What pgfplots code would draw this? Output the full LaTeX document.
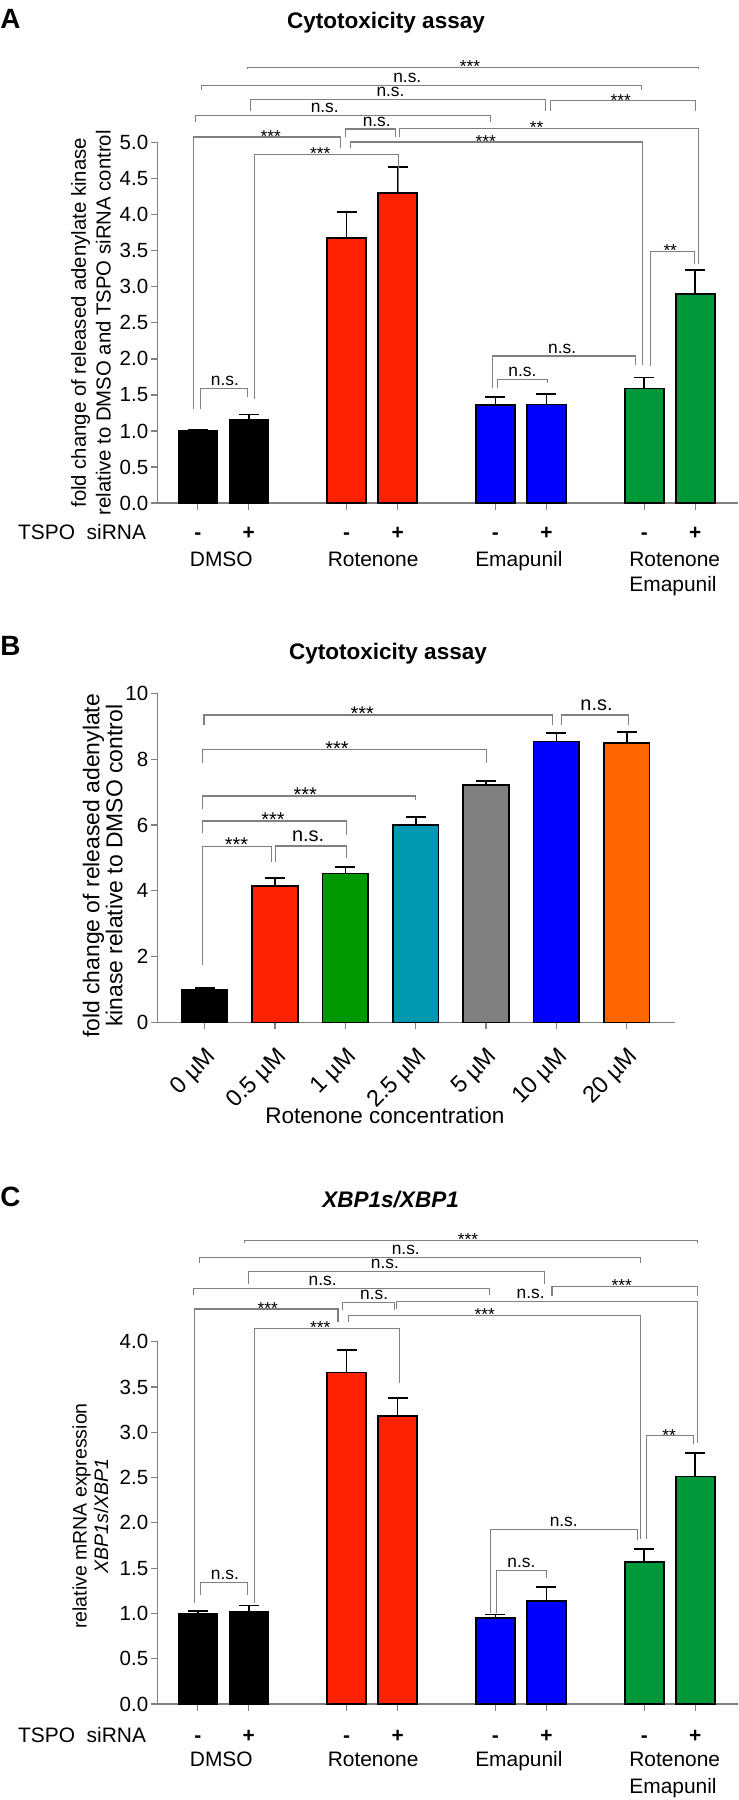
\documentclass[border=0pt]{standalone}
\usepackage{fontspec}
\setmainfont{Liberation Sans}
\usepackage{pgfplots}
\pgfplotsset{compat=1.18}

\definecolor{rotred}{HTML}{FF2200}
\definecolor{emablue}{HTML}{0000FF}
\definecolor{comgreen}{HTML}{00993A}
\definecolor{bgreen}{HTML}{009A00}
\definecolor{bteal}{HTML}{0099B3}
\definecolor{bgrey}{HTML}{808080}
\definecolor{borange}{HTML}{FF6600}
\definecolor{axgray}{HTML}{808080}

\tikzset{
  brk/.style={draw=axgray, line width=0.55bp},
  star/.style={anchor=base, font=\fontsize{8.7}{10}\selectfont, inner sep=0pt, yshift=-2.6bp},
  ns/.style={anchor=base, font=\fontsize{8.7}{10}\selectfont, inner sep=0pt, yshift=1.5bp},
  starB/.style={anchor=base, font=\fontsize{10}{12}\selectfont, inner sep=0pt, yshift=-2.6bp},
  nsB/.style={anchor=base, font=\fontsize{10}{12}\selectfont, inner sep=0pt, yshift=2.1bp},
  lab/.style={anchor=base, font=\fontsize{10.5}{13.35}\selectfont, inner sep=0pt},
  pm/.style={anchor=base, font=\bfseries\fontsize{10.5}{12}\selectfont, inner sep=0pt},
}
% significance bracket: x1, bottom1, x2, bottom2, top, label x, text, style
\newcommand{\brk}[8]{%
  \draw[brk] (axis cs:#1,#2) -- (axis cs:#1,#5) -- (axis cs:#3,#5) -- (axis cs:#3,#4);
  \node[#8] at (axis cs:#6,#5) {#7};}
% siRNA row: x, sign, shift
\newcommand{\sirna}[3]{\node[pm] at ([yshift=#3]axis cs:#1,0) {#2};}
% rotated concentration label
\newcommand{\conc}[2]{\node[rotate=45, anchor=east, inner sep=0, font=\fontsize{11.8}{14}\selectfont]
     at ([xshift=4bp, yshift=-15.5bp]axis cs:#1,0) {#2\ µM};}

\pgfplotsset{
  gp/.style={
    scale only axis, anchor=south west, clip=false,
    axis lines*=left, axis line style={-, axgray, line width=0.6bp},
    tick style={axgray, line width=0.6bp}, tick align=outside, major tick length=3.3bp,
    xticklabels={}, 
    yticklabel style={font=\fontsize{10.3}{12}\selectfont, inner sep=1.2bp},
    /pgf/number format/assume math mode=true,
    error bars/y dir=plus, error bars/y explicit,
    error bars/error bar style={black, line width=0.8bp},
    error bars/error mark options={black, line width=0.8bp, mark size=5bp, rotate=90},
  },
  bars/.style={ybar, bar shift=0pt, fill=#1, draw=black, line width=0.8bp},
}

\begin{document}
\begin{tikzpicture}
\begin{scope}[x=0.5bp, y=-0.5bp]
  \path[use as bounding box] (0,0) rectangle (738,1800);
  \node[anchor=base west, inner sep=0, font=\bfseries\fontsize{14}{16}\selectfont] at (0,28.3) {A};
  \node[anchor=base, inner sep=0, font=\bfseries\fontsize{11.3}{13}\selectfont] at (386,28.5) {Cytotoxicity assay};
  \node[anchor=base west, inner sep=0, font=\bfseries\fontsize{14}{16}\selectfont] at (0,655) {B};
  \node[anchor=base, inner sep=0, font=\bfseries\fontsize{11.3}{13}\selectfont] at (388,659) {Cytotoxicity assay};
  \node[anchor=base west, inner sep=0, font=\bfseries\fontsize{14}{16}\selectfont] at (0,1206.7) {C};
  \node[anchor=base, inner sep=0, font=\bfseries\itshape\fontsize{11.3}{13}\selectfont] at (390.6,1207.3) {XBP1s/XBP1};
\end{scope}

% ---------------- A ----------------
\begin{axis}[gp, at={(78.8bp,-251.5bp)}, width=290.2bp, height=180.15bp,
  xmin=-0.79, xmax=10.6, ymin=0, ymax=5, bar width=19.5bp,
  xtick={0,1,2.92,3.92,5.84,6.84,8.76,9.76},
  ytick={0,0.5,1,1.5,2,2.5,3,3.5,4,4.5,5},
  yticklabel style={/pgf/number format/.cd, fixed, fixed zerofill, precision=1}]
\addplot[bars=black] coordinates {(0,1.00) +- (0,0.02) (1,1.15) +- (0,0.08)};
\addplot[bars=rotred] coordinates {(2.92,3.68) +- (0,0.36) (3.92,4.30) +- (0,0.36)};
\addplot[bars=emablue] coordinates {(5.84,1.36) +- (0,0.11) (6.84,1.37) +- (0,0.14)};
\addplot[bars=comgreen] coordinates {(8.76,1.59) +- (0,0.15) (9.76,2.90) +- (0,0.33)};

\brk{0.98}{6.02}{9.82}{6.02}{6.05}{5.34}{***}{star}
\brk{0.07}{5.73}{8.70}{5.73}{5.80}{4.11}{n.s.}{ns}
\brk{1.04}{5.44}{6.83}{5.44}{5.60}{3.78}{n.s.}{ns}
\brk{6.92}{5.44}{9.77}{5.44}{5.58}{8.30}{***}{star}
\brk{-0.05}{5.29}{5.75}{5.29}{5.38}{2.49}{n.s.}{ns}
\brk{2.89}{5.08}{3.88}{5.08}{5.19}{3.51}{n.s.}{ns}
\brk{3.95}{5.08}{9.83}{3.32}{5.20}{6.65}{**}{star}
\brk{-0.09}{1.31}{2.80}{4.92}{5.08}{1.43}{***}{star}
\brk{3.00}{4.92}{8.72}{1.91}{5.01}{5.65}{***}{star}
\brk{1.11}{1.45}{3.94}{4.31}{4.84}{2.40}{***}{star}
\brk{8.88}{1.90}{9.75}{3.32}{3.49}{9.27}{**}{star}
\brk{5.78}{1.59}{8.58}{1.91}{2.04}{7.15}{n.s.}{ns}
\brk{5.88}{1.60}{6.86}{1.66}{1.71}{6.37}{n.s.}{ns}
\brk{0.05}{1.30}{0.97}{1.47}{1.59}{0.53}{n.s.}{ns}

\node[lab, anchor=base east] at ([yshift=-18.1bp]axis cs:-1.01,0) {TSPO\ \ siRNA};
\sirna{0}{-}{-18.1bp}\sirna{1}{+}{-18.1bp}
\sirna{2.92}{-}{-18.1bp}\sirna{3.92}{+}{-18.1bp}
\sirna{5.84}{-}{-18.1bp}\sirna{6.84}{+}{-18.1bp}
\sirna{8.76}{-}{-18.1bp}\sirna{9.76}{+}{-18.1bp}
\node[lab] at ([yshift=-31.9bp]axis cs:0.46,0) {DMSO};
\node[lab] at ([yshift=-31.9bp]axis cs:3.44,0) {Rotenone};
\node[lab] at ([yshift=-31.9bp]axis cs:6.30,0) {Emapunil};
\node[lab, anchor=base west] at ([yshift=-31.9bp]axis cs:8.46,0) {Rotenone};
\node[lab, anchor=base west] at ([yshift=-44.2bp]axis cs:8.46,0) {Emapunil};
\node[rotate=90, align=center, inner sep=0, font=\fontsize{10.2}{12.5}\selectfont]
  at ([xshift=-33.3bp]rel axis cs:0,0.5) {fold change of released adenylate kinase\\relative to DMSO and TSPO siRNA control};
\end{axis}

% ---------------- B ----------------
\begin{axis}[gp, at={(78.8bp,-511.15bp)}, width=258.85bp, height=164.5bp,
  xmin=-0.67, xmax=6.69, ymin=0, ymax=10, bar width=22.8bp,
  xtick={0,1,2,3,4,5,6}, ytick={0,2,4,6,8,10}]
\addplot[bars=black] coordinates {(0,1.00) +- (0,0.05)};
\addplot[bars=rotred] coordinates {(1,4.15) +- (0,0.23)};
\addplot[bars=bgreen] coordinates {(2,4.52) +- (0,0.21)};
\addplot[bars=bteal] coordinates {(3,6.00) +- (0,0.25)};
\addplot[bars=bgrey] coordinates {(4,7.21) +- (0,0.12)};
\addplot[bars=emablue] coordinates {(5,8.53) +- (0,0.27)};
\addplot[bars=borange] coordinates {(6,8.49) +- (0,0.34)};

\brk{-0.01}{9.04}{4.95}{9.04}{9.34}{2.24}{***}{starB}
\brk{5.07}{9.04}{6.02}{9.04}{9.34}{5.57}{n.s.}{nsB}
\brk{-0.03}{7.88}{4.00}{7.88}{8.28}{1.88}{***}{starB}
\brk{-0.03}{6.47}{2.99}{6.76}{6.88}{1.43}{***}{starB}
\brk{-0.03}{5.74}{2.01}{5.69}{6.12}{0.97}{***}{starB}
\brk{-0.03}{1.74}{0.95}{4.88}{5.34}{0.45}{***}{starB}
\brk{1.00}{4.88}{2.01}{4.98}{5.36}{1.47}{n.s.}{nsB}

\conc{0}{0}\conc{1}{0.5}\conc{2}{1}\conc{3}{2.5}\conc{4}{5}\conc{5}{10}\conc{6}{20}
\node[anchor=base, inner sep=0, font=\fontsize{11.3}{13}\selectfont] at ([yshift=-50.5bp]axis cs:2.56,0) {Rotenone concentration};
\node[rotate=90, align=center, inner sep=0, font=\fontsize{11.5}{11.5}\selectfont]
  at ([xshift=-27.5bp, yshift=-4bp]rel axis cs:0,0.5) {fold change of released adenylate\\kinase relative to DMSO control};
\end{axis}

% ---------------- C ----------------
\begin{axis}[gp, at={(78.8bp,-852bp)}, width=290.2bp, height=181.2bp,
  xmin=-0.79, xmax=10.6, ymin=0, ymax=4, bar width=19.5bp,
  xtick={0,1,2.92,3.92,5.84,6.84,8.76,9.76},
  ytick={0,0.5,1,1.5,2,2.5,3,3.5,4},
  yticklabel style={/pgf/number format/.cd, fixed, fixed zerofill, precision=1}]
\addplot[bars=black] coordinates {(0,1.00) +- (0,0.03) (1,1.02) +- (0,0.07)};
\addplot[bars=rotred] coordinates {(2.92,3.66) +- (0,0.25) (3.92,3.18) +- (0,0.20)};
\addplot[bars=emablue] coordinates {(5.84,0.95) +- (0,0.04) (6.84,1.14) +- (0,0.15)};
\addplot[bars=comgreen] coordinates {(8.76,1.57) +- (0,0.14) (9.76,2.51) +- (0,0.26)};

\brk{0.91}{5.09}{9.81}{5.09}{5.12}{5.30}{***}{star}
\brk{0.03}{4.87}{8.69}{4.87}{4.93}{4.08}{n.s.}{ns}
\brk{0.99}{4.64}{6.81}{4.64}{4.77}{3.67}{n.s.}{ns}
\brk{6.95}{4.50}{9.80}{4.50}{4.61}{8.32}{***}{star}
\brk{-0.09}{4.51}{5.72}{4.51}{4.59}{2.45}{n.s.}{ns}
\brk{3.90}{4.36}{9.81}{2.88}{4.44}{6.53}{n.s.}{ns}
\brk{2.84}{4.35}{3.86}{4.35}{4.43}{3.46}{n.s.}{ns}
\brk{-0.06}{1.12}{2.75}{4.22}{4.36}{1.37}{***}{star}
\brk{2.95}{4.22}{8.69}{1.82}{4.29}{5.63}{***}{star}
\brk{1.11}{1.12}{3.95}{3.54}{4.15}{2.40}{***}{star}
\brk{8.81}{1.82}{9.73}{2.87}{2.96}{9.25}{**}{star}
\brk{5.75}{1.00}{8.63}{1.81}{1.93}{7.18}{n.s.}{ns}
\brk{5.86}{1.01}{6.85}{1.39}{1.47}{6.35}{n.s.}{ns}
\brk{0.05}{1.20}{0.97}{1.20}{1.34}{0.53}{n.s.}{ns}

\node[lab, anchor=base east] at ([yshift=-19bp]axis cs:-1.01,0) {TSPO\ \ siRNA};
\sirna{0}{-}{-19bp}\sirna{1}{+}{-19bp}
\sirna{2.92}{-}{-19bp}\sirna{3.92}{+}{-19bp}
\sirna{5.84}{-}{-19bp}\sirna{6.84}{+}{-19bp}
\sirna{8.76}{-}{-19bp}\sirna{9.76}{+}{-19bp}
\node[lab] at ([yshift=-31.4bp]axis cs:0.46,0) {DMSO};
\node[lab] at ([yshift=-31.4bp]axis cs:3.44,0) {Rotenone};
\node[lab] at ([yshift=-31.4bp]axis cs:6.30,0) {Emapunil};
\node[lab, anchor=base west] at ([yshift=-31.4bp]axis cs:8.46,0) {Rotenone};
\node[lab, anchor=base west] at ([yshift=-44.7bp]axis cs:8.46,0) {Emapunil};
\node[rotate=90, align=center, inner sep=0, font=\fontsize{9.8}{10.8}\selectfont]
  at ([xshift=-33.6bp, yshift=3.4bp]rel axis cs:0,0.5) {relative mRNA expression\\\textit{XBP1s}/\textit{XBP1}};
\end{axis}
\end{tikzpicture}
\end{document}
